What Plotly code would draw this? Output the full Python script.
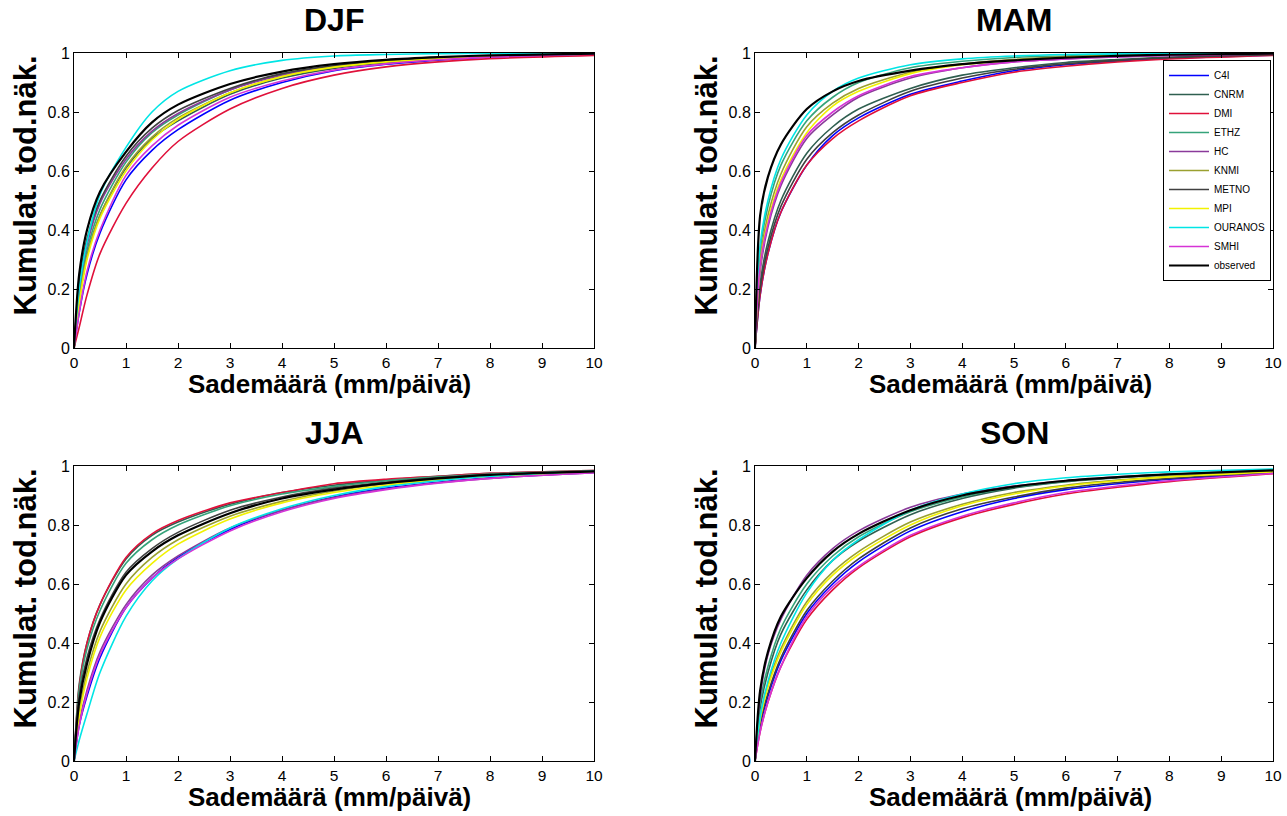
import plotly.graph_objects as go

# ---------------- data ----------------
x_vals = [0, 0.1, 0.25, 0.5, 1, 1.5, 2, 3, 4, 5, 6, 7, 8, 10]

models = ["C4I", "CNRM", "DMI", "ETHZ", "HC", "KNMI", "METNO", "MPI", "OURANOS", "SMHI", "observed"]
colors = ["#0000ff", "#2f5f50", "#e0103a", "#35a37a", "#8a3a9a", "#9aa030",
          "#404040", "#f2f200", "#00e5e5", "#d633d6", "#000000"]

djf_C4I      = [0, 0.12, 0.25, 0.39, 0.57, 0.67, 0.74, 0.84, 0.90, 0.94, 0.962, 0.976, 0.986, 0.995]
djf_CNRM     = [0, 0.16, 0.31, 0.45, 0.61, 0.71, 0.77, 0.86, 0.915, 0.948, 0.967, 0.978, 0.988, 0.996]
djf_DMI      = [0, 0.07, 0.18, 0.32, 0.49, 0.61, 0.70, 0.81, 0.88, 0.925, 0.953, 0.97, 0.981, 0.992]
djf_ETHZ     = [0, 0.18, 0.33, 0.47, 0.63, 0.73, 0.79, 0.875, 0.928, 0.956, 0.972, 0.982, 0.99, 0.997]
djf_HC       = [0, 0.2, 0.35, 0.49, 0.64, 0.735, 0.795, 0.875, 0.925, 0.955, 0.97, 0.981, 0.99, 0.997]
djf_KNMI     = [0, 0.16, 0.31, 0.45, 0.615, 0.715, 0.78, 0.865, 0.92, 0.952, 0.97, 0.98, 0.99, 0.997]
djf_METNO    = [0, 0.22, 0.37, 0.50, 0.65, 0.745, 0.805, 0.88, 0.93, 0.957, 0.972, 0.982, 0.99, 0.997]
djf_MPI      = [0, 0.15, 0.30, 0.44, 0.60, 0.705, 0.775, 0.865, 0.92, 0.952, 0.97, 0.98, 0.99, 0.997]
djf_OURANOS  = [0, 0.2, 0.36, 0.52, 0.68, 0.80, 0.87, 0.94, 0.975, 0.99, 0.995, 0.998, 0.999, 1.0]
djf_SMHI     = [0, 0.12, 0.26, 0.40, 0.585, 0.685, 0.755, 0.85, 0.905, 0.942, 0.963, 0.977, 0.986, 0.996]
djf_observed = [0, 0.25, 0.40, 0.53, 0.665, 0.765, 0.825, 0.895, 0.937, 0.962, 0.977, 0.986, 0.992, 0.998]

mam_C4I      = [0, 0.18, 0.32, 0.46, 0.62, 0.72, 0.78, 0.86, 0.905, 0.94, 0.96, 0.973, 0.982, 0.993]
mam_CNRM     = [0, 0.22, 0.36, 0.50, 0.66, 0.75, 0.81, 0.88, 0.925, 0.95, 0.968, 0.978, 0.986, 0.995]
mam_DMI      = [0, 0.18, 0.32, 0.46, 0.62, 0.71, 0.77, 0.855, 0.90, 0.935, 0.955, 0.97, 0.98, 0.992]
mam_ETHZ     = [0, 0.33, 0.48, 0.62, 0.77, 0.85, 0.90, 0.95, 0.972, 0.985, 0.99, 0.995, 0.997, 0.999]
mam_HC       = [0, 0.26, 0.41, 0.55, 0.71, 0.79, 0.85, 0.915, 0.95, 0.97, 0.98, 0.987, 0.992, 0.997]
mam_KNMI     = [0, 0.30, 0.45, 0.59, 0.75, 0.83, 0.88, 0.935, 0.963, 0.978, 0.987, 0.992, 0.995, 0.999]
mam_METNO    = [0, 0.20, 0.34, 0.48, 0.64, 0.73, 0.79, 0.87, 0.915, 0.945, 0.963, 0.975, 0.984, 0.994]
mam_MPI      = [0, 0.28, 0.43, 0.57, 0.73, 0.82, 0.87, 0.93, 0.96, 0.975, 0.985, 0.99, 0.994, 0.998]
mam_OURANOS  = [0, 0.35, 0.50, 0.64, 0.79, 0.87, 0.915, 0.96, 0.98, 0.99, 0.995, 0.997, 0.998, 1.0]
mam_SMHI     = [0, 0.28, 0.42, 0.56, 0.72, 0.80, 0.855, 0.92, 0.95, 0.97, 0.98, 0.987, 0.992, 0.997]
mam_observed = [0, 0.45, 0.58, 0.69, 0.81, 0.87, 0.905, 0.94, 0.962, 0.975, 0.984, 0.99, 0.994, 0.998]

jja_C4I      = [0, 0.12, 0.22, 0.35, 0.52, 0.62, 0.69, 0.785, 0.85, 0.895, 0.925, 0.945, 0.96, 0.978]
jja_CNRM     = [0, 0.26, 0.40, 0.53, 0.685, 0.765, 0.81, 0.87, 0.91, 0.935, 0.952, 0.965, 0.975, 0.985]
jja_DMI      = [0, 0.25, 0.40, 0.53, 0.69, 0.77, 0.815, 0.875, 0.91, 0.94, 0.955, 0.965, 0.975, 0.985]
jja_ETHZ     = [0, 0.24, 0.38, 0.51, 0.67, 0.75, 0.80, 0.865, 0.905, 0.93, 0.95, 0.963, 0.973, 0.984]
jja_HC       = [0, 0.13, 0.24, 0.37, 0.53, 0.63, 0.695, 0.79, 0.85, 0.893, 0.922, 0.943, 0.958, 0.977]
jja_KNMI     = [0, 0.17, 0.30, 0.44, 0.60, 0.69, 0.75, 0.83, 0.88, 0.915, 0.94, 0.955, 0.967, 0.982]
jja_METNO    = [0, 0.22, 0.35, 0.48, 0.64, 0.72, 0.775, 0.85, 0.895, 0.925, 0.945, 0.96, 0.97, 0.983]
jja_MPI      = [0, 0.15, 0.28, 0.42, 0.58, 0.67, 0.735, 0.82, 0.875, 0.91, 0.935, 0.952, 0.965, 0.98]
jja_OURANOS  = [0, 0.07, 0.16, 0.30, 0.49, 0.61, 0.685, 0.79, 0.855, 0.90, 0.93, 0.95, 0.965, 0.982]
jja_SMHI     = [0, 0.12, 0.23, 0.36, 0.52, 0.62, 0.685, 0.78, 0.845, 0.89, 0.92, 0.942, 0.958, 0.977]
jja_observed = [0, 0.20, 0.33, 0.47, 0.63, 0.71, 0.765, 0.84, 0.89, 0.92, 0.942, 0.958, 0.97, 0.982]

son_C4I      = [0, 0.12, 0.22, 0.34, 0.50, 0.60, 0.675, 0.78, 0.845, 0.89, 0.92, 0.94, 0.955, 0.976]
son_CNRM     = [0, 0.18, 0.30, 0.43, 0.58, 0.68, 0.745, 0.835, 0.89, 0.925, 0.947, 0.96, 0.97, 0.985]
son_DMI      = [0, 0.10, 0.20, 0.32, 0.48, 0.58, 0.655, 0.76, 0.825, 0.87, 0.905, 0.928, 0.947, 0.974]
son_ETHZ     = [0, 0.20, 0.32, 0.45, 0.60, 0.695, 0.76, 0.845, 0.895, 0.928, 0.948, 0.962, 0.972, 0.986]
son_HC       = [0, 0.22, 0.36, 0.48, 0.63, 0.72, 0.78, 0.86, 0.905, 0.932, 0.95, 0.963, 0.972, 0.985]
son_KNMI     = [0, 0.15, 0.26, 0.38, 0.54, 0.64, 0.71, 0.81, 0.87, 0.91, 0.935, 0.952, 0.965, 0.982]
son_METNO    = [0, 0.13, 0.23, 0.35, 0.51, 0.61, 0.685, 0.79, 0.855, 0.895, 0.925, 0.944, 0.958, 0.978]
son_MPI      = [0, 0.14, 0.25, 0.37, 0.53, 0.63, 0.70, 0.80, 0.865, 0.905, 0.932, 0.95, 0.963, 0.98]
son_OURANOS  = [0, 0.15, 0.27, 0.40, 0.57, 0.68, 0.75, 0.85, 0.905, 0.94, 0.96, 0.972, 0.98, 0.99]
son_SMHI     = [0, 0.10, 0.20, 0.32, 0.49, 0.59, 0.66, 0.765, 0.83, 0.875, 0.91, 0.932, 0.95, 0.975]
son_observed = [0, 0.24, 0.37, 0.49, 0.62, 0.71, 0.77, 0.85, 0.90, 0.93, 0.95, 0.962, 0.972, 0.985]

seasons = ["DJF", "MAM", "JJA", "SON"]
season_data = {
    "DJF": [djf_C4I, djf_CNRM, djf_DMI, djf_ETHZ, djf_HC, djf_KNMI, djf_METNO, djf_MPI, djf_OURANOS, djf_SMHI, djf_observed],
    "MAM": [mam_C4I, mam_CNRM, mam_DMI, mam_ETHZ, mam_HC, mam_KNMI, mam_METNO, mam_MPI, mam_OURANOS, mam_SMHI, mam_observed],
    "JJA": [jja_C4I, jja_CNRM, jja_DMI, jja_ETHZ, jja_HC, jja_KNMI, jja_METNO, jja_MPI, jja_OURANOS, jja_SMHI, jja_observed],
    "SON": [son_C4I, son_CNRM, son_DMI, son_ETHZ, son_HC, son_KNMI, son_METNO, son_MPI, son_OURANOS, son_SMHI, son_observed],
}

x_ticks = [0, 1, 2, 3, 4, 5, 6, 7, 8, 9, 10]
y_ticks = [0, 0.2, 0.4, 0.6, 0.8, 1]
y_tick_labels = ["0", "0.2", "0.4", "0.6", "0.8", "1"]
x_title = "Sademäärä (mm/päivä)"
y_title = "Kumulat. tod.näk."

# ---------------- layout geometry ----------------
W, H = 1287, 816
col_px = [(74, 594), (755, 1273)]
row_px = [(53, 348), (466, 761)]
FONT = "Arial, Liberation Sans, sans-serif"

def xd(a, b):
    return [a / W, b / W]

def yd(top, bot):
    return [1 - bot / H, 1 - top / H]

fig = go.Figure()
layout = dict(width=W, height=H, autosize=False,
              margin=dict(l=0, r=0, t=0, b=0, pad=0, autoexpand=False),
              paper_bgcolor="white", plot_bgcolor="white",
              font=dict(family=FONT, color="black"),
              showlegend=True)
annotations = []

for i, s in enumerate(seasons):
    r, c = divmod(i, 2)
    ax = "" if i == 0 else str(i + 1)
    xa, ya = "x" + ax, "y" + ax
    for m, col, yv in zip(models, colors, season_data[s]):
        fig.add_trace(go.Scatter(
            x=x_vals, y=yv, mode="lines", name=m, xaxis=xa, yaxis=ya,
            line=dict(color=col, width=2.2 if m == "observed" else 1.6, shape="spline", smoothing=0.8),
            legendgroup=m, showlegend=(s == "MAM"), hoverinfo="skip"))
    common = dict(showline=True, linecolor="black", linewidth=1, mirror="ticks",
                  ticks="inside", ticklen=5, tickcolor="black", showgrid=False, zeroline=False,
                  automargin=False)
    layout["xaxis" + ax] = dict(domain=xd(*col_px[c]), range=[0, 10], tickvals=x_ticks,
                                anchor=ya, ticklabelstandoff=0,
                                tickfont=dict(size=15.5, family=FONT, color="black"), **common)
    layout["yaxis" + ax] = dict(domain=yd(*row_px[r]), range=[0, 1], tickvals=y_ticks,
                                ticktext=y_tick_labels, anchor=xa,
                                tickfont=dict(size=16, family=FONT, color="black"), **common)
    cx = (col_px[c][0] + col_px[c][1]) / 2
    cy = (row_px[r][0] + row_px[r][1]) / 2
    annotations.append(dict(text="<b>%s</b>" % s, x=cx / W, y=1 - (row_px[r][0] - 33) / H,
                            xref="paper", yref="paper", showarrow=False,
                            font=dict(size=32, family=FONT), xanchor="center", yanchor="middle"))
    annotations.append(dict(text="<b>%s</b>" % x_title, x=(cx - 4) / W, y=1 - (row_px[r][1] + 36) / H,
                            xref="paper", yref="paper", showarrow=False,
                            font=dict(size=26, family=FONT), xanchor="center", yanchor="middle"))
    annotations.append(dict(text="<b>%s</b>" % y_title, x=(col_px[c][0] - 49) / W,
                            y=1 - (cy - 15) / H,
                            xref="paper", yref="paper", showarrow=False, textangle=-90,
                            font=dict(size=31, family=FONT), xanchor="center", yanchor="middle"))

layout["annotations"] = annotations
layout["legend"] = dict(x=1271 / W, y=1 - 60 / H, xanchor="right", yanchor="top",
                        bgcolor="white", bordercolor="black", borderwidth=1,
                        font=dict(size=10, family=FONT),
                        tracegroupgap=0, itemwidth=40)
fig.update_layout(**layout)
fig.write_html("out.html")
